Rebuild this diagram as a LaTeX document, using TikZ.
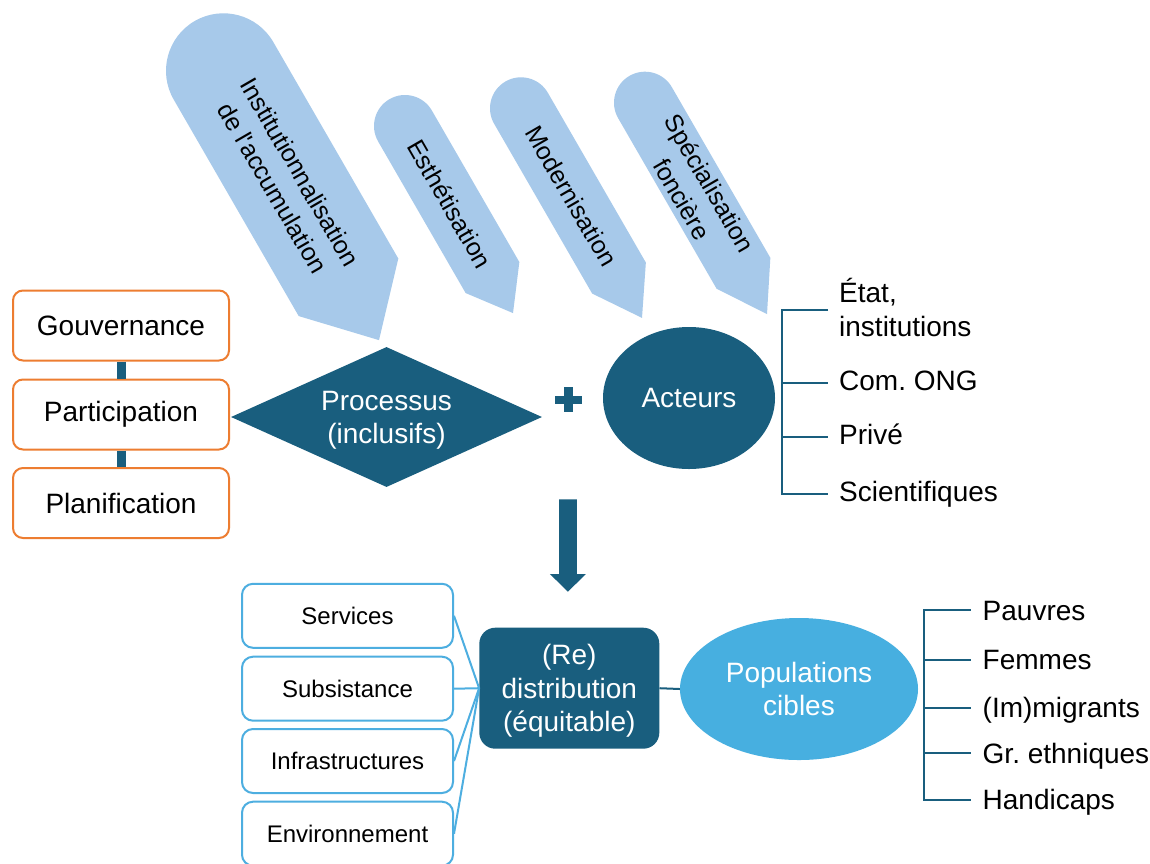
\documentclass[tikz,border=0pt]{standalone}
\usepackage{fontspec}
\setmainfont{Liberation Sans}
\usetikzlibrary{shapes.geometric}
\definecolor{dark}{HTML}{195E7E}
\definecolor{orangec}{HTML}{ED7D31}
\definecolor{boxblue}{HTML}{4DAEE0}
\definecolor{popblue}{HTML}{47AFE0}
\definecolor{lightarr}{HTML}{A7C9EA}
\frenchspacing
\begin{document}
\frenchspacing
\begin{tikzpicture}[x=1pt,y=1pt,
  orangebox/.style={draw=orangec, line width=2pt, rounded corners=10pt, fill=white,
    minimum width=216pt, minimum height=70pt, inner sep=0pt, font=\fontsize{28}{33.6}\selectfont},
  bluebox/.style={draw=boxblue, line width=2pt, rounded corners=11pt, fill=white,
    minimum width=211pt, minimum height=64pt, inner sep=0pt, font=\fontsize{24}{29}\selectfont},
  arrowtext/.style={rotate=-60, align=center, inner sep=0pt, font=\fontsize{25}{32}\selectfont},
  darkshape/.style={fill=dark, inner sep=0pt, text=white, align=center, font=\fontsize{28}{33.6}\selectfont},
  listtext/.style={anchor=west, inner ysep=0pt, font=\fontsize{28}{33.6}\selectfont},
  actitem/.style={listtext, inner xsep=11pt, text height=21pt, text depth=7pt},
  popitem/.style={listtext, inner xsep=12pt, text height=20pt, text depth=0pt},
  treeline/.style={draw=dark, line width=2pt},
  fanline/.style={draw=boxblue, line width=2pt}]

\fill[white] (0,0) rectangle (1150,-863);
\useasboundingbox (0,0) rectangle (1150,-863);

% ---- slanted arrows ----
\begin{scope}[shift={(223.5,-70.8)}, rotate=30]
  \fill[lightarr] (-57.5,0) -- (-57.5,-250) -- (0,-311) -- (57.5,-250) -- (57.5,0)
    arc[start angle=0, end angle=180, radius=57.5] -- cycle;
  \node[arrowtext] (t1) at (0,-126) {Institutionnalisation\\de l\textquotesingle accumulation};
\end{scope}
\begin{scope}[shift={(405,-126)}, rotate=30]
  \fill[lightarr] (-31,0) -- (-31,-175) -- (0,-216) -- (31,-175) -- (31,0)
    arc[start angle=0, end angle=180, radius=31] -- cycle;
  \node[arrowtext] (t2) at (0,-90) {Esthétisation};
\end{scope}
\begin{scope}[shift={(521,-108.3)}, rotate=30]
  \fill[lightarr] (-31,0) -- (-31,-196) -- (0,-242) -- (31,-196) -- (31,0)
    arc[start angle=0, end angle=180, radius=31] -- cycle;
  \node[arrowtext] (t3) at (0,-101) {Modernisation};
\end{scope}
\begin{scope}[shift={(645,-102.7)}, rotate=30]
  \fill[lightarr] (-31,0) -- (-31,-197) -- (0,-244) -- (31,-197) -- (31,0)
    arc[start angle=0, end angle=180, radius=31] -- cycle;
  \node[arrowtext] (t4) at (0,-102) {Spécialisation\\foncière};
\end{scope}

% ---- left boxes ----
\node[orangebox] (gouv) at (121,-325.5) {Gouvernance};
\node[orangebox] (part) at (121,-414.5) {Participation};
\node[orangebox] (plan) at (121,-503) {Planification};
\draw[dark, line width=9pt] (gouv.south) -- (part.north);
\draw[dark, line width=9pt] (part.south) -- (plan.north);

% ---- process diamond ----
\node[darkshape, diamond, aspect=2.2, minimum width=311pt, minimum height=140pt]
  (proc) at (386.5,-417) {\rule{0pt}{26pt}Processus\\(inclusifs)};

% plus sign
\fill[dark] (555,-396) rectangle (581.7,-404.3);
\fill[dark] (564,-387.3) rectangle (573.3,-412.3);

% ---- actors ----
\node[darkshape, ellipse, minimum width=172pt, minimum height=142pt]
  (act) at (689,-398) {Acteurs};

\coordinate (as1) at (781.7,-310);
\coordinate (as2) at (781.7,-383);
\coordinate (as3) at (781.7,-437);
\coordinate (as4) at (781.7,-494);
\node[listtext, align=left, inner xsep=11pt] (ac1) at (828,-307.5) {État,\\institutions};
\node[actitem] (ac2) at (828,-383) {Com. ONG};
\node[actitem] (ac3) at (828,-437) {Privé};
\node[actitem] (ac4) at (828,-494) {Scientifiques};
\draw[treeline] (as1 -| ac2.west) -- (as1) -- (as4) -- (ac4.west);
\draw[treeline] (as2) -- (ac2.west);
\draw[treeline] (as3) -- (ac3.west);

% ---- down arrow ----
\fill[dark] (559,-499.3) -- (576.8,-499.3) -- (576.8,-574) -- (585.9,-574) -- (567.9,-591.7)
  -- (549.9,-574) -- (559,-574) -- cycle;

% ---- lower boxes ----
\node[bluebox] (serv) at (347.5,-615.8) {Services};
\node[bluebox] (subs) at (347.5,-688.7) {Subsistance};
\node[bluebox] (infra) at (347.5,-761) {Infrastructures};
\node[bluebox] (env) at (347.5,-833.7) {Environnement};

\node[darkshape, rounded corners=16pt, minimum width=180pt, minimum height=121pt]
  (dist) at (569.3,-688.2) {\rule{0pt}{26pt}(Re)\\distribution\\(équitable)};

\draw[fanline] (serv.east) -- (dist.west);
\draw[fanline] (subs.east) -- (dist.west);
\draw[fanline] (infra.east) -- (dist.west);
\draw[fanline] (env.east) -- (dist.west);

% ---- target populations ----
\node[ellipse, fill=popblue, inner sep=0pt, text=white, align=center,
  font=\fontsize{28}{33.6}\selectfont, minimum width=238pt, minimum height=142pt]
  (pop) at (799,-689) {Populations\\cibles};
\draw[treeline] (dist.east) -- (pop.west);

\coordinate (ps1) at (924,-610);
\coordinate (ps2) at (924,-659.8);
\coordinate (ps3) at (924,-707.9);
\coordinate (ps4) at (924,-753.4);
\coordinate (ps5) at (924,-799.7);
\node[popitem] (p1) at (970.5,-610) {Pauvres};
\node[popitem] (p2) at (970.5,-659.8) {Femmes};
\node[popitem] (p3) at (970.5,-707.9) {(Im)migrants};
\node[popitem] (p4) at (970.5,-753.4) {Gr. ethniques};
\node[popitem] (p5) at (970.5,-799.7) {Handicaps};
\draw[treeline] (p1.west) -- (ps1) -- (ps5) -- (p5.west);
\draw[treeline] (ps2) -- (p2.west);
\draw[treeline] (ps3) -- (p3.west);
\draw[treeline] (ps4) -- (p4.west);
\end{tikzpicture}
\end{document}
